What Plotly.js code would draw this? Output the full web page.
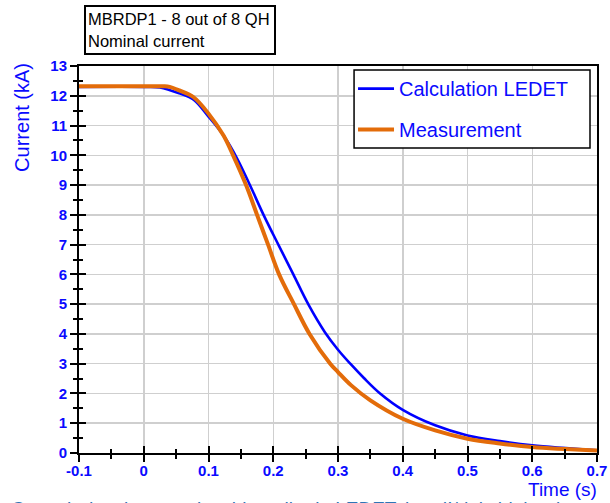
<!DOCTYPE html>
<html>
<head>
<meta charset="utf-8">
<script src="https://cdn.plot.ly/plotly-3.0.1.min.js"></script>
<style>html,body{margin:0;padding:0;background:#fff;}#chart{width:610px;height:503px;}</style>
</head>
<body>
<div id="chart"></div>
<script>
// Calculation LEDET (blue)
const calcTime = [-0.1, 0.0, 0.025, 0.055, 0.077, 0.1, 0.123, 0.144, 0.165, 0.185, 0.209, 0.231, 0.254, 0.28, 0.3, 0.319, 0.34, 0.365, 0.4, 0.45, 0.5, 0.55, 0.6, 0.7];
const calcCurrent = [12.3, 12.3, 12.28, 12.08, 11.87, 11.3, 10.67, 9.9, 8.95, 8.0, 6.95, 6.0, 5.0, 4.05, 3.47, 3.0, 2.52, 2.0, 1.45, 0.93, 0.59, 0.40, 0.26, 0.09];
// Measurement (orange)
const measTime = [-0.1, 0.0, 0.03, 0.04, 0.055, 0.077, 0.1, 0.123, 0.138, 0.158, 0.175, 0.192, 0.209, 0.232, 0.256, 0.288, 0.3, 0.32, 0.35, 0.4, 0.45, 0.5, 0.55, 0.6, 0.7];
const measCurrent = [12.32, 12.32, 12.32, 12.3, 12.18, 11.95, 11.4, 10.67, 10.0, 9.0, 8.0, 7.0, 6.0, 5.0, 4.0, 3.0, 2.72, 2.28, 1.77, 1.15, 0.76, 0.48, 0.32, 0.2, 0.08];

const xTickVals = [-0.1, 0, 0.1, 0.2, 0.3, 0.4, 0.5, 0.6, 0.7];
const xTickText = ['-0.1', '0', '0.1', '0.2', '0.3', '0.4', '0.5', '0.6', '0.7'];
const yTickVals = [0,1,2,3,4,5,6,7,8,9,10,11,12,13];
const yTickText = ['0','1','2','3','4','5','6','7','8','9','10','11','12','13'];

const BLUE = '#0a0aff';
const ORANGE = '#e36c0a';
const FONT = 'Liberation Sans, Arial, sans-serif';
const bold = s => '<b>' + s + '</b>';

const traces = [
  {x: calcTime, y: calcCurrent, type: 'scatter', mode: 'lines', name: 'Calculation LEDET',
   line: {color: '#0000ff', width: 2.6, shape: 'spline', smoothing: 1}, legendgroup: 'a'},
  {x: measTime, y: measCurrent, type: 'scatter', mode: 'lines', name: 'Measurement',
   line: {color: ORANGE, width: 4, shape: 'spline', smoothing: 1}, legendgroup: 'b'},
  {x: [], y: [], xaxis: 'x2', yaxis: 'y2', showlegend: false, hoverinfo: 'skip'}
];

const tickFont = {family: FONT, size: 15, color: BLUE};

const layout = {
  width: 610, height: 503,
  margin: {l: 79, r: 13, t: 66, b: 50, pad: 0},
  paper_bgcolor: '#ffffff', plot_bgcolor: '#ffffff',
  showlegend: true,
  legend: {
    x: 0.529, y: 0.992, xanchor: 'left', yanchor: 'top',
    bgcolor: 'rgba(0,0,0,0)', borderwidth: 0,
    font: {family: FONT, size: 20, color: BLUE},
    traceorder: 'grouped', tracegroupgap: 12, itemwidth: 36
  },
  shapes: [
    {type: 'rect', xref: 'paper', yref: 'paper', x0: 0.531, x1: 0.9865, y0: 0.788, y1: 0.9897,
     fillcolor: '#ffffff', line: {color: '#000', width: 1.5}, layer: 'above'}
  ],
  xaxis: {
    range: [-0.1, 0.7], tickvals: xTickVals, ticktext: xTickText.map(bold),
    tickfont: tickFont, ticks: 'outside', ticklen: 7, tickwidth: 2, tickcolor: '#000',
    ticklabelstandoff: -4,
    showgrid: true, gridcolor: '#cfcfcf', gridwidth: 1.5, zeroline: false,
    showline: true, linecolor: '#000', linewidth: 2, mirror: true,
    minor: {dtick: 0.05, ticks: 'outside', ticklen: 4, tickwidth: 2, tickcolor: '#000', showgrid: false},
    fixedrange: true
  },
  yaxis: {
    range: [0, 13], tickvals: yTickVals, ticktext: yTickText.map(bold),
    tickfont: tickFont, ticks: 'outside', ticklen: 7, tickwidth: 2, tickcolor: '#000',
    showgrid: true, gridcolor: '#cfcfcf', gridwidth: 1.5, zeroline: false,
    showline: true, linecolor: '#000', linewidth: 2, mirror: true,
    minor: {dtick: 0.5, ticks: 'outside', ticklen: 4, tickwidth: 2, tickcolor: '#000', showgrid: false},
    fixedrange: true
  },
  xaxis2: {
    overlaying: 'x', anchor: 'y', range: [-0.1, 0.7], tickvals: xTickVals,
    showticklabels: false, ticks: 'inside', ticklen: 7, tickwidth: 2, tickcolor: '#000',
    showgrid: false, zeroline: false, showline: false,
    minor: {dtick: 0.05, ticks: 'inside', ticklen: 4, tickwidth: 2, tickcolor: '#000', showgrid: false},
    fixedrange: true
  },
  yaxis2: {
    overlaying: 'y', anchor: 'x', side: 'left', range: [0, 13], tickvals: yTickVals,
    showticklabels: false, ticks: 'inside', ticklen: 7, tickwidth: 2, tickcolor: '#000',
    showgrid: false, zeroline: false, showline: false,
    minor: {dtick: 0.5, ticks: 'inside', ticklen: 4, tickwidth: 2, tickcolor: '#000', showgrid: false},
    fixedrange: true
  },
  annotations: [
    {xref: 'paper', yref: 'paper', x: 0.0097, y: 1.1576, xanchor: 'left', yanchor: 'top',
     text: 'MBRDP1 - 8 out of 8 QH<br>Nominal current', align: 'left', showarrow: false,
     font: {family: FONT, size: 16.5, color: '#000'},
     bordercolor: '#000', borderwidth: 2, borderpad: 2, bgcolor: '#fff',
     width: 184, height: 42, valign: 'middle'},
    {xref: 'paper', yref: 'paper', x: -0.11, y: 0.866, xanchor: 'center', yanchor: 'middle',
     text: 'Current (kA)', textangle: -90, showarrow: false,
     font: {family: FONT, size: 20, color: BLUE}},
    {xref: 'paper', yref: 'paper', x: 0.934, y: -0.095, xanchor: 'center', yanchor: 'middle',
     text: 'Time (s)', showarrow: false,
     font: {family: FONT, size: 19, color: BLUE}},
    {xref: 'paper', yref: 'paper', x: -0.135, y: -0.11, xanchor: 'left', yanchor: 'top',
     text: 'Quench development is a bit earlier in LEDET, but dI/dt is higher in measurement', showarrow: false,
     font: {family: FONT, size: 19, color: '#2e75b6'}}
  ]
};

Plotly.newPlot('chart', traces, layout, {displayModeBar: false, staticPlot: true});
</script>
</body>
</html>
